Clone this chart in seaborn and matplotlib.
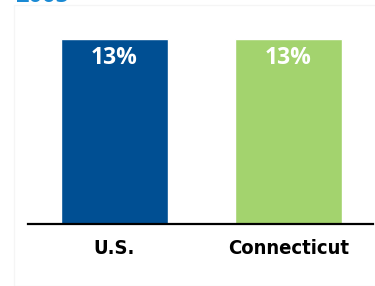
import matplotlib
matplotlib.use("Agg")
import matplotlib.pyplot as plt
import seaborn as sns
import pandas as pd
from matplotlib.patches import Rectangle

## data
regions = ["U.S.", "Connecticut"]
shares = [13, 13]
bar_labels = ["13%", "13%"]
bar_colors = ["#004f93", "#a3d36e"]
title_text = "2005"

df = pd.DataFrame({"region": regions, "share": shares})

sns.set_theme(style="white")
plt.rcParams["font.family"] = ["DejaVu Sans"]

fig = plt.figure(figsize=(3.75, 2.86), dpi=100)
fig.patch.set_facecolor("white")

# faint panel frame behind the chart
fig.patches.append(Rectangle((14 / 375, 0), 1, 1 - 5 / 286, transform=fig.transFigure,
                             facecolor="white", edgecolor="#f5f5f5", lw=1, zorder=-5))

# title cut off at the very top
fig.text(15 / 375, 1 - 1.5 / 286, title_text, color="#1a8ad4", fontsize=17,
         fontweight="bold", family=["Open Sans", "DejaVu Sans"], va="baseline", ha="left")

ax = fig.add_axes([28 / 375, 1 - 224 / 286, 345 / 375, (224 - 10.5) / 286])
ax.set_facecolor("none")
ax.set_zorder(2)
sns.barplot(data=df, x="region", y="share", hue="region", palette=bar_colors,
            width=0.615, legend=False, saturation=1, ax=ax)

for i, (v, lab) in enumerate(zip(shares, bar_labels)):
    ax.text(i, v - 1.35, lab, color="white", ha="center", va="center",
            fontsize=16.5, fontweight="bold", family=["Open Sans", "DejaVu Sans"])

ax.set_xlim(-0.497, 1.486)
ax.set_ylim(0, 15)
ax.set_yticks([])
ax.set_xlabel("")
ax.set_ylabel("")
for s in ["top", "right", "left"]:
    ax.spines[s].set_visible(False)
ax.spines["bottom"].set_color("black")
ax.spines["bottom"].set_linewidth(1.6)
ax.tick_params(axis="x", length=0, pad=11)
for t in ax.get_xticklabels():
    t.set_fontsize(14.5)
    t.set_fontweight("bold")
    t.set_fontstretch("condensed")
    t.set_color("black")

fig.savefig("out.png", dpi=100)
